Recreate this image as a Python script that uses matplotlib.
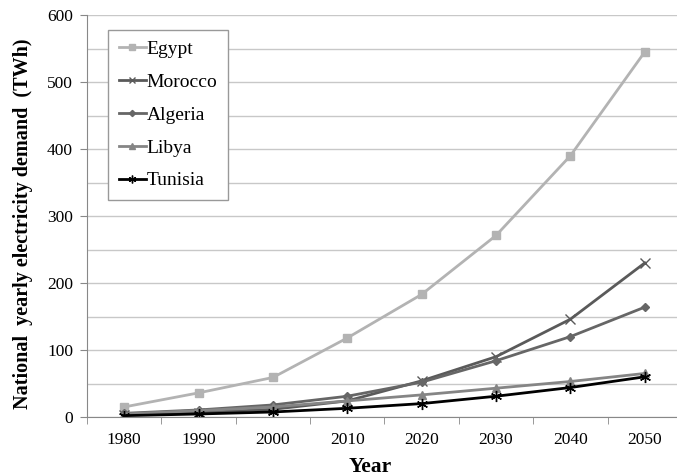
import matplotlib
matplotlib.use("Agg")
import matplotlib.pyplot as plt
import numpy as np

plt.rcParams['font.family'] = ['Liberation Serif', 'DejaVu Serif']

years = ["1980", "1990", "2000", "2010", "2020", "2030", "2040", "2050"]
egypt = [15, 36, 59, 118, 183, 271, 390, 545]
morocco = [3.5, 6.5, 11.5, 24, 54, 90, 146, 230]
algeria = [5.5, 10.5, 18, 31, 52, 84, 120, 164]
libya = [4.5, 9.5, 15, 24, 33, 43, 53, 65]
tunisia = [2, 4.5, 7.5, 13, 20, 31, 44, 60]

series = [
    ("Egypt", egypt, "#b3b3b3", "s", 5.5),
    ("Morocco", morocco, "#5a5a5a", "x", 6.5),
    ("Algeria", algeria, "#666666", "D", 4.5),
    ("Libya", libya, "#858585", "^", 5.5),
    ("Tunisia", tunisia, "#000000", (6, 2, 0), 8),
]

fig = plt.figure(figsize=(6.77, 4.76), dpi=100)
ax = fig.add_axes([87 / 677, 59 / 476, 595 / 677, 402 / 476])

x = np.arange(len(years))
for name, vals, col, mk, ms in series:
    ax.plot(x, vals, color=col, lw=2, marker=mk, markersize=ms,
            markeredgecolor=col, markerfacecolor=col, markeredgewidth=1,
            label=name)

ax.set_xlim(-0.5, len(years) - 0.5)
ax.set_ylim(0, 600)
ax.set_yticks(np.arange(0, 601, 100))
ax.set_yticks(np.arange(50, 600, 100), minor=True)
ax.tick_params(axis='y', which='minor', length=0)
ax.set_xticks(x)
ax.set_xticklabels(years)
ax.set_xticks(np.arange(-0.5, len(years), 1), minor=True)
ax.tick_params(axis='x', which='major', length=0, pad=11)
ax.tick_params(axis='x', which='minor', length=5, color='#888888')
ax.tick_params(axis='y', which='major', length=5, color='#888888', pad=5)
ax.tick_params(labelsize=12.5)

ax.grid(axis='y', which='both', color='#c8c8c8', lw=1)
ax.set_axisbelow(True)
for s in ['top', 'right']:
    ax.spines[s].set_visible(False)
for s in ['left', 'bottom']:
    ax.spines[s].set_color('#888888')

fig.text(23 / 677, 1 - 224 / 476, "National  yearly electricity demand  (TWh)",
         rotation=90, ha='center', va='center', fontsize=14.5,
         fontweight='bold')
fig.text(370 / 677, 1 - 472 / 476, "Year", ha='center', va='baseline',
         fontsize=15.5, fontweight='bold')

leg = ax.legend(loc='upper left', bbox_to_anchor=(21 / 595, 1 - 15 / 402),
                fontsize=14, handlelength=1.4, handletextpad=0.05,
                labelspacing=0.78, borderpad=0.55, borderaxespad=0,
                fancybox=False, edgecolor='#999999', framealpha=1,
                markerscale=0.7)
leg.get_frame().set_linewidth(1)

fig.savefig("out.png", dpi=100)
